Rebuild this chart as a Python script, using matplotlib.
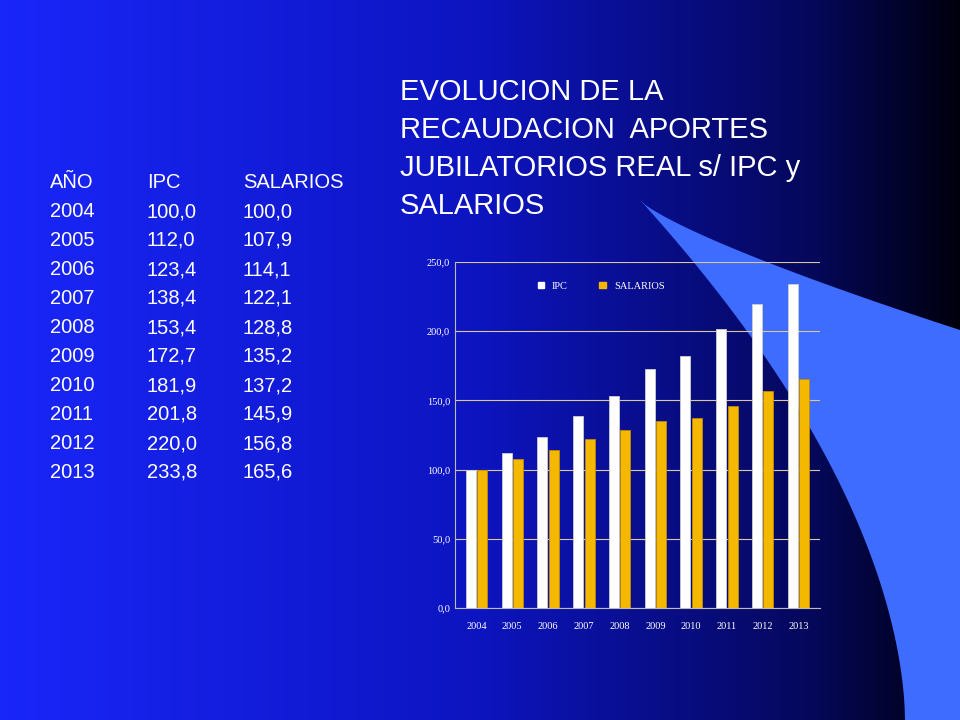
import matplotlib
matplotlib.use("Agg")
import matplotlib.pyplot as plt
import numpy as np
from matplotlib.patches import Polygon

years = ["2004","2005","2006","2007","2008","2009","2010","2011","2012","2013"]
ipc = [100.0,112.0,123.4,138.4,153.4,172.7,181.9,201.8,220.0,233.8]
salarios = [100.0,107.9,114.1,122.1,128.8,135.2,137.2,145.9,156.8,165.6]
yticks = [0,50,100,150,200,250]

fig = plt.figure(figsize=(9.6,7.2), dpi=100)
bg = fig.add_axes([0,0,1,1])
bg.set_xlim(0,960); bg.set_ylim(720,0); bg.axis("off")
xs = np.linspace(0,1,400)
r = np.interp(xs,[0,0.5,0.85,1],[0.10,0.05,0.02,0.0])
g = np.interp(xs,[0,0.5,0.85,1],[0.15,0.08,0.03,0.0])
b = np.interp(xs,[0,0.5,0.85,1],[0.98,0.75,0.35,0.05])
img = np.stack([r,g,b],axis=1)[None,:,:].repeat(2,axis=0)
bg.imshow(img,extent=[0,960,720,0],aspect="auto")
t = np.linspace(0,1,60)
upper = np.column_stack([640+320*t, 200+130*t**0.8])
lowerx = 905 - 265*(1-t)**1.6
lowery = 720 - 520*(1-t)**0.9
left = np.column_stack([lowerx, lowery])
poly = np.vstack([upper,[960,720],left[::-1][::-1][::-1]])
poly = np.vstack([upper,[960,720],np.column_stack([lowerx,lowery])[::-1]])
bg.add_patch(Polygon(poly,closed=True,color="#3d6cff",lw=0))

tf = dict(color="white", fontsize=14.5, family="Liberation Sans")
bg.text(50,188,"AÑO",**tf); bg.text(147,188,"IPC",**tf); bg.text(243,188,"SALARIOS",**tf)
for i,(y,a,s) in enumerate(zip(years,ipc,salarios)):
    yy = 209+29*(i)
    bg.text(50,yy+8,y,**tf)
    bg.text(147,yy+8,f"{a:.1f}".replace(".",","),**tf)
    bg.text(243,yy+8,f"{s:.1f}".replace(".",","),**tf)
for i,l in enumerate(["EVOLUCION DE LA","RECAUDACION  APORTES","JUBILATORIOS REAL s/ IPC y","SALARIOS"]):
    bg.text(400,92+38*i,l,color="white",fontsize=21,family="Liberation Sans",va="center")

ax = fig.add_axes([455/960,1-608/720,365/960,346/720])
ax.patch.set_alpha(0)
x = np.arange(len(years))
w = 0.28
ax.bar(x-w/2-0.02,ipc,w,color="white",edgecolor="#cccccc",lw=0.6)
ax.bar(x+w/2+0.02,salarios,w,color="#f5b800",edgecolor="#c08a00",lw=0.6)
ax.set_ylim(0,250); ax.set_xlim(-0.6,9.6)
ax.set_yticks(yticks)
ax.set_yticklabels([f"{v:.1f}".replace(".",",") for v in yticks])
ax.set_xticks(x); ax.set_xticklabels(years)
ax.grid(axis="y",color="#d8c8a0",lw=0.8); ax.set_axisbelow(True)
for s in ["top","right"]: ax.spines[s].set_visible(False)
ax.spines["left"].set_color("#bbbbbb"); ax.spines["bottom"].set_color("#bbbbbb")
ax.tick_params(colors="white",labelsize=7.5,length=0)
for lab in ax.get_xticklabels()+ax.get_yticklabels():
    lab.set_family("Liberation Serif"); lab.set_color("white")
ax.tick_params(axis="x",pad=10)
h1 = plt.Rectangle((0,0),1,1,color="white"); h2 = plt.Rectangle((0,0),1,1,color="#f5b800")
leg = ax.legend([h1,h2],["IPC","SALARIOS"],loc="upper center",bbox_to_anchor=(0.4,0.97),ncol=2,frameon=False,
                prop={"family":"Liberation Serif","size":7.5},handlelength=0.6,handleheight=0.6,columnspacing=3)
for tx in leg.get_texts(): tx.set_color("white")
fig.savefig("out.png",dpi=100)
